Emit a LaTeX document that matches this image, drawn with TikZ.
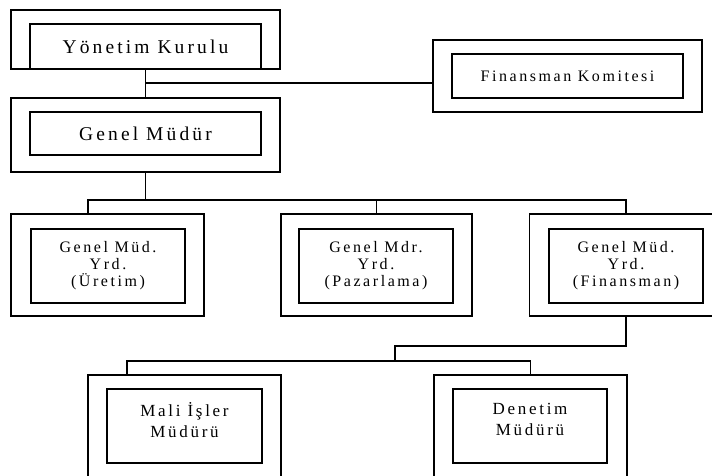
\documentclass[tikz,border=0pt]{standalone}
\usepackage{fontspec}
\setmainfont{Liberation Serif}
\newfontfamily\spaced[LetterSpace=16]{Liberation Serif}
\tikzset{
  dis/.style={draw, line width=1.4pt, inner sep=0pt, minimum width=#1},
  ic/.style={draw, line width=1.4pt, inner sep=0pt, align=center, minimum width=#1, font=\spaced},
}
\begin{document}
\begin{tikzpicture}[x=1pt, y=-1pt, line width=1.4pt]
  \useasboundingbox (0,0) rectangle (712,475);
  \clip (0,0) rectangle (712,475);

  % Yonetim Kurulu
  \node[dis=269pt, minimum height=59pt] (ykD) at (145.5,39.5) {};
  \node[ic=231pt, minimum height=45pt, font=\spaced\fontsize{19.5}{22}\selectfont] (yk) at (145.5,46.5) {Yönetim Kurulu};

  % Genel Mudur
  \node[dis=269pt, minimum height=74pt] (gmD) at (145.5,135) {};
  \node[ic=231pt, minimum height=43pt, font=\spaced\fontsize{19.5}{22}\selectfont] (gm) at (145.5,133.5) {Genel Müdür};

  % Finansman Komitesi
  \node[dis=269pt, minimum height=72pt] (fkD) at (567.5,76) {};
  \node[ic=231pt, minimum height=44pt, font=\spaced\fontsize{16}{18}\selectfont] (fk) at (567.5,76) {Finansman Komitesi};

  % genel mudur yardimcilari
  \node[dis=193pt, minimum height=102pt] (g1D) at (107.5,265) {};
  \node[dis=191pt, minimum height=102pt] (g2D) at (376.5,265) {};
  \node[dis=193pt, minimum height=102pt] (g3D) at (626,265) {};
  \node[ic=154pt, minimum height=74pt, font=\spaced\fontsize{16}{17}\selectfont] (g1) at (108,266) {Genel Müd.\\Yrd.\\(Üretim)};
  \node[ic=154pt, minimum height=74pt, font=\spaced\fontsize{16}{17}\selectfont] (g2) at (376,266) {Genel Mdr.\\Yrd.\\(Pazarlama)};
  \node[ic=154pt, minimum height=74pt, font=\spaced\fontsize{16}{17}\selectfont] (g3) at (626,266) {Genel Müd.\\Yrd.\\(Finansman)};

  % mudurler
  \node[dis=193pt, minimum height=115pt] (m1D) at (184.5,432.5) {};
  \node[dis=193pt, minimum height=115pt] (m2D) at (530.5,432.5) {};
  \node[ic=155pt, minimum height=74pt, font=\spaced\fontsize{17}{21}\selectfont] (m1) at (184.5,426) {Mali İşler\\Müdürü\\[-8pt]};
  \node[ic=154pt, minimum height=74pt, font=\spaced\fontsize{17}{21}\selectfont] (m2) at (530,426) {Denetim\\Müdürü\\[-8pt]};

  % baglantilar
  \coordinate (k1) at (146,83);
  \coordinate (bus1) at (0,200);
  \coordinate (j2) at (395,346);
  \coordinate (bus3) at (0,361);
  \draw (ykD.south) -- (gmD.north);
  \draw (k1) -- (k1 -| fkD.west);
  \draw (gmD.south) -- (gmD.south |- bus1);
  \draw ([xshift=-19.5pt]g1D.north) |- (bus1 -| g3D.north) -- (g3D.north);
  \draw (g2D.north) -- (g2D.north |- bus1);
  \draw (g3D.south) |- (j2) -- (j2 |- bus3);
  \draw ([xshift=-57.5pt]m1D.north) |- (bus3 -| m2D.north) -- (m2D.north);
\end{tikzpicture}
\end{document}
